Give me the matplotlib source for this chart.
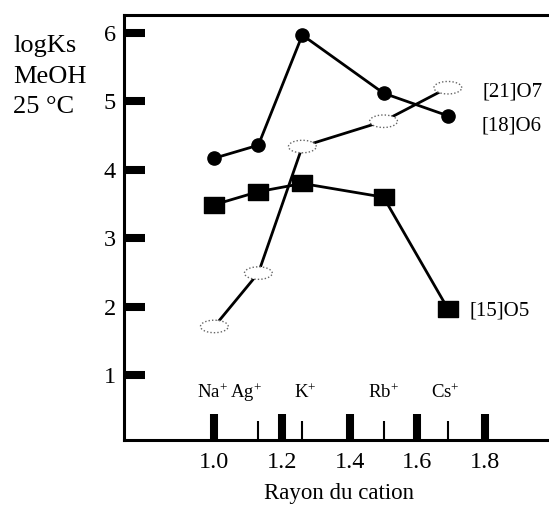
import numpy as np
import matplotlib
matplotlib.use("Agg")
import matplotlib.pyplot as plt
from matplotlib.path import Path

plt.rcParams['font.family'] = ['Liberation Serif', 'DejaVu Serif']
plt.rcParams['mathtext.fontset'] = 'custom'
plt.rcParams['mathtext.rm'] = 'Liberation Serif'
plt.rcParams['mathtext.it'] = 'Liberation Serif:italic'
plt.rcParams['mathtext.bf'] = 'Liberation Serif:bold'

# ---- data ----
cations = ['Na', 'Ag', 'K', 'Rb', 'Cs']
radius = [1.00, 1.13, 1.26, 1.50, 1.69]
logks_18o6 = [4.17, 4.36, 5.97, 5.12, 4.79]
logks_15o5 = [3.49, 3.68, 3.80, 3.60, 1.97]
logks_21o7 = [1.71, 2.49, 4.34, 4.71, 5.20]
series_names = ['[21]O7', '[18]O6', '[15]O5']
xticks = [1.0, 1.2, 1.4, 1.6, 1.8]
yticks = [1, 2, 3, 4, 5, 6]

fig = plt.figure(figsize=(5.49, 5.09), dpi=100)
ax = fig.add_axes([124/549, 1-440/509, 1-124/549, (440-15)/509])
ax.set_xlim(0.733, 1.989)
ax.set_ylim(0.05, 6.263)

# markers
rect = Path([(-1, -0.75), (1, -0.75), (1, 0.75), (-1, 0.75), (-1, -0.75)],
            [Path.MOVETO, Path.LINETO, Path.LINETO, Path.LINETO, Path.CLOSEPOLY])
t = np.linspace(0, 2*np.pi, 60)
ell = Path(np.column_stack([np.cos(t), 0.45*np.sin(t)]))

# [21]O7 line + open dotted ellipses
ax.plot(radius, logks_21o7, color='black', lw=2.0, zorder=2)
ax.scatter(radius, logks_21o7, s=20**2, marker=ell, facecolor='white',
           edgecolor='#666666', linewidths=1.0, linestyle=(0, (1, 1.5)), zorder=3)

# [15]O5 line + filled rectangles
ax.plot(radius, logks_15o5, color='black', lw=2.0, marker=rect, ms=14.5,
        mfc='black', mec='black', zorder=4)

# [18]O6 line + filled circles
ax.plot(radius, logks_18o6, color='black', lw=2.0, marker='o', ms=9.5,
        mfc='black', mec='black', zorder=5)

# series labels
ax.annotate(series_names[0], (radius[-1], logks_21o7[-1]), xytext=(35, -4),
            textcoords='offset pixels', fontsize=15, va='center', ha='left')
ax.annotate(series_names[1], (radius[-1], logks_18o6[-1]), xytext=(34, -10),
            textcoords='offset pixels', fontsize=15, va='center', ha='left')
ax.annotate(series_names[2], (radius[-1], logks_15o5[-1]), xytext=(22, -2),
            textcoords='offset pixels', fontsize=15, va='center', ha='left')

# cation labels
offs = {'Na': -2, 'Ag': -12, 'K': 3, 'Rb': 0, 'Cs': -2}
for c, r in zip(cations, radius):
    ax.annotate(c + r'$^{+}$', (r, 0.74), xytext=(offs[c], 0),
                textcoords='offset pixels', fontsize=13.5, ha='center', va='center')

# spines
ax.spines['right'].set_visible(False)
for s in ['left', 'bottom', 'top']:
    ax.spines[s].set_linewidth(2.2)

# ticks
ax.set_xticks(xticks)
ax.set_xticklabels([f'{v:.1f}' for v in xticks])
ax.set_xticks(radius[1:], minor=True)
ax.set_yticks(yticks)
ax.set_yticklabels([str(v) for v in yticks])
ax.tick_params(axis='x', which='major', direction='in', length=18.7, width=5.8,
               labelsize=17.5, pad=9, top=False)
ax.tick_params(axis='x', which='minor', direction='in', length=13.7, width=1.5, top=False)
ax.tick_params(axis='y', which='major', direction='in', length=15, width=5.8,
               labelsize=17.5, pad=6, right=False)
ax.tick_params(axis='y', which='minor', left=False)

# axis label
fig.text(339/549, 1-493/509, 'Rayon du cation', fontsize=16.5, ha='center', va='center')

# y label block
fig.text(13/549, 1-51.7/509, 'logKs', fontsize=19, ha='left', va='baseline')
fig.text(13/549, 1-83.3/509, 'MeOH', fontsize=19, ha='left', va='baseline')
fig.text(13/549, 1-113.3/509, '25 °C', fontsize=19, ha='left', va='baseline')

fig.savefig('out.png', dpi=100)
